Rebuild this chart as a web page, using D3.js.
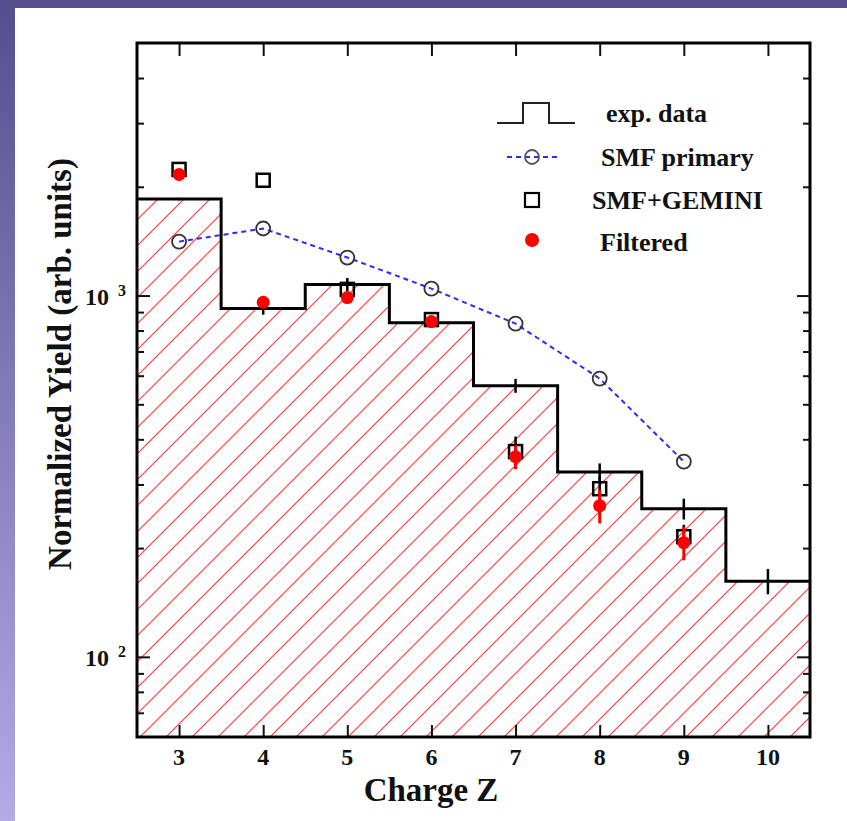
<!DOCTYPE html>
<html>
<head>
<meta charset="utf-8">
<script src="https://cdn.jsdelivr.net/npm/d3@7"></script>
<style>
  body { margin: 0; background: #fff; }
  text { font-family: "Liberation Serif", "Times New Roman", serif; font-weight: bold; fill: #111; }
</style>
</head>
<body>
<script>
// data
var charges = [3, 4, 5, 6, 7, 8, 9, 10];
var expData = [1850, 920, 1073, 841, 563, 325, 257, 162];
var expErr = [15, 35, 45, 10, 25, 18, 17, 13];
var smfZ = [3, 4, 5, 6, 7, 8, 9];
var smfPrimary = [1410, 1533, 1274, 1045, 836, 589, 347];
var gemini = [2234, 2085, 1040, 858, 370, 292, 215];
var geminiErr = [0, 0, 0, 0, 37, 25, 17];
var filtered = [2163, 958, 987, 847, 358, 262, 207];
var filteredErr = [0, 0, 30, 20, 27, 28, 22];
var xTicks = [3, 4, 5, 6, 7, 8, 9, 10];
var yMajor = [100, 1000];
var yMinor = [70, 80, 90, 200, 300, 400, 500, 600, 700, 800, 900, 2000, 3000, 4000];
var legendLabels = ["exp. data", "SMF primary", "SMF+GEMINI", "Filtered"];

var width = 847,
    height = 821;

var svg = d3.select("body").append("svg")
  .attr("width", width)
  .attr("height", height);

var defs = svg.append("defs");

var grad = defs.append("linearGradient")
  .attr("id", "side")
  .attr("x1", 0).attr("y1", 0).attr("x2", 0).attr("y2", 1);
grad.append("stop").attr("offset", "0%").attr("stop-color", "#534f8e");
grad.append("stop").attr("offset", "100%").attr("stop-color", "#b3aae6");

// hatch pattern for the exp. data histogram
var hatch = defs.append("pattern")
  .attr("id", "hatch")
  .attr("patternUnits", "userSpaceOnUse")
  .attr("x", 19)
  .attr("width", 26)
  .attr("height", 26);
hatch.append("path")
  .attr("d", "M0,26 L26,0 M-13,13 L13,-13 M13,39 L39,13")
  .attr("stroke", "#ff3b3b")
  .attr("stroke-width", 1.2);

// background
svg.append("rect").attr("width", width).attr("height", 8).attr("fill", "#534f8e");
svg.append("rect").attr("width", 15).attr("height", height).attr("fill", "url(#side)");

var pLeft = 137, pRight = 810, pTop = 43, pBottom = 737;

var x = d3.scaleLinear().domain([2.5, 10.5]).range([pLeft, pRight]);
var y = d3.scaleLog().domain([60, 5000]).range([pBottom, pTop]);

var plot = svg.append("g");

// step histogram points
var steps = [];
charges.forEach(function(z, i) {
  steps.push([z - 0.5, expData[i]]);
  steps.push([z + 0.5, expData[i]]);
});

var area = d3.area()
  .x(function(d) { return x(d[0]); })
  .y0(pBottom)
  .y1(function(d) { return y(d[1]); });

plot.append("path")
  .datum(steps)
  .attr("d", area)
  .attr("fill", "url(#hatch)");

var line = d3.line()
  .x(function(d) { return x(d[0]); })
  .y(function(d) { return y(d[1]); });

plot.append("path")
  .datum(steps)
  .attr("d", line)
  .attr("fill", "none")
  .attr("stroke", "#000")
  .attr("stroke-width", 3);

// exp error bars
plot.selectAll(".experr")
  .data(charges)
  .enter()
.append("line")
  .attr("x1", function(d) { return x(d); })
  .attr("x2", function(d) { return x(d); })
  .attr("y1", function(d, i) { return y(expData[i] + expErr[i]); })
  .attr("y2", function(d, i) { return y(expData[i] - expErr[i]); })
  .attr("stroke", "#000")
  .attr("stroke-width", 2.5);

// SMF primary
plot.append("path")
  .datum(smfZ.map(function(z, i) { return [z, smfPrimary[i]]; }))
  .attr("d", line)
  .attr("fill", "none")
  .attr("stroke", "#2a2aff")
  .attr("stroke-width", 2)
  .attr("stroke-dasharray", "5,4");

plot.selectAll(".prim")
  .data(smfZ)
  .enter()
.append("circle")
  .attr("cx", function(d) { return x(d); })
  .attr("cy", function(d, i) { return y(smfPrimary[i]); })
  .attr("r", 7)
  .attr("fill", "none")
  .attr("stroke", "#333")
  .attr("stroke-width", 1.8);

// SMF+GEMINI
plot.selectAll(".gemerr")
  .data(smfZ)
  .enter()
.append("line")
  .attr("x1", function(d) { return x(d); })
  .attr("x2", function(d) { return x(d); })
  .attr("y1", function(d, i) { return y(gemini[i] + geminiErr[i]); })
  .attr("y2", function(d, i) { return y(gemini[i] - geminiErr[i]); })
  .attr("stroke", "#000")
  .attr("stroke-width", 2.5);

plot.selectAll(".gem")
  .data(smfZ)
  .enter()
.append("rect")
  .attr("x", function(d) { return x(d) - 6.5; })
  .attr("y", function(d, i) { return y(gemini[i]) - 6.5; })
  .attr("width", 13)
  .attr("height", 13)
  .attr("fill", "none")
  .attr("stroke", "#000")
  .attr("stroke-width", 2.5);

// filtered
plot.selectAll(".filerr")
  .data(smfZ)
  .enter()
.append("line")
  .attr("x1", function(d) { return x(d); })
  .attr("x2", function(d) { return x(d); })
  .attr("y1", function(d, i) { return y(filtered[i] + filteredErr[i]); })
  .attr("y2", function(d, i) { return y(filtered[i] - filteredErr[i]); })
  .attr("stroke", "#ff0000")
  .attr("stroke-width", 3);

plot.selectAll(".fil")
  .data(smfZ)
  .enter()
.append("circle")
  .attr("cx", function(d) { return x(d); })
  .attr("cy", function(d, i) { return y(filtered[i]); })
  .attr("r", 6.5)
  .attr("fill", "#ff0000");

// axes, ticks pointing inwards on all four sides
var fmt = function() { return ""; };
function tickStyle(g) {
  g.select(".domain").remove();
  g.selectAll(".tick line").attr("stroke", "#111").attr("stroke-width", 2);
}

svg.append("g").attr("transform", "translate(0," + pBottom + ")")
  .call(d3.axisBottom(x).tickValues(xTicks).tickSize(-12).tickFormat(fmt))
  .call(tickStyle);
svg.append("g").attr("transform", "translate(0," + pTop + ")")
  .call(d3.axisTop(x).tickValues(xTicks).tickSize(-13).tickFormat(fmt))
  .call(tickStyle);
svg.append("g").attr("transform", "translate(" + pLeft + ",0)")
  .call(d3.axisLeft(y).tickValues(yMajor).tickSize(-13).tickFormat(fmt))
  .call(tickStyle);
svg.append("g").attr("transform", "translate(" + pLeft + ",0)")
  .call(d3.axisLeft(y).tickValues(yMinor).tickSize(-7).tickFormat(fmt))
  .call(tickStyle);
svg.append("g").attr("transform", "translate(" + pRight + ",0)")
  .call(d3.axisRight(y).tickValues(yMajor).tickSize(-13).tickFormat(fmt))
  .call(tickStyle);
svg.append("g").attr("transform", "translate(" + pRight + ",0)")
  .call(d3.axisRight(y).tickValues(yMinor).tickSize(-7).tickFormat(fmt))
  .call(tickStyle);

svg.append("rect")
  .attr("x", pLeft).attr("y", pTop)
  .attr("width", pRight - pLeft).attr("height", pBottom - pTop)
  .attr("fill", "none")
  .attr("stroke", "#000")
  .attr("stroke-width", 3);

// tick labels
svg.selectAll(".xlab")
  .data(xTicks)
  .enter()
.append("text")
  .attr("x", function(d) { return x(d); })
  .attr("y", 765)
  .attr("text-anchor", "middle")
  .attr("font-size", 24)
  .text(function(d) { return d; });

var ylab = svg.selectAll(".ylab")
  .data(yMajor)
  .enter()
.append("text")
  .attr("x", 85)
  .attr("y", function(d) { return y(d) + 9; })
  .attr("font-size", 24);
ylab.append("tspan").text("10");
ylab.append("tspan")
  .attr("dx", 9)
  .attr("dy", -9)
  .attr("font-size", 16)
  .text(function(d) { return Math.round(Math.log10(d)); });

// axis titles
svg.append("text")
  .attr("x", 431)
  .attr("y", 801)
  .attr("text-anchor", "middle")
  .attr("font-size", 33)
  .text("Charge Z");

svg.append("text")
  .attr("transform", "translate(71,364) rotate(-90)")
  .attr("text-anchor", "middle")
  .attr("font-size", 33)
  .text("Normalized Yield (arb. units)");

// legend
var leg = svg.append("g");
var legY = [113, 157, 200, 242];
var legX = [606, 601, 592, 600];

leg.append("path")
  .attr("d", "M497,123 H523 V103 H549 V123 H575")
  .attr("fill", "none")
  .attr("stroke", "#222")
  .attr("stroke-width", 2);
leg.append("line")
  .attr("x1", 507).attr("x2", 558)
  .attr("y1", legY[1]).attr("y2", legY[1])
  .attr("stroke", "#2a2aff")
  .attr("stroke-width", 2)
  .attr("stroke-dasharray", "5,4");
leg.append("circle")
  .attr("cx", 532).attr("cy", legY[1]).attr("r", 7)
  .attr("fill", "none").attr("stroke", "#555").attr("stroke-width", 1.8);
leg.append("rect")
  .attr("x", 525).attr("y", legY[2] - 7).attr("width", 14).attr("height", 14)
  .attr("fill", "none").attr("stroke", "#000").attr("stroke-width", 2.2);
leg.append("circle")
  .attr("cx", 532).attr("cy", 240).attr("r", 7)
  .attr("fill", "#ff0000");

leg.selectAll("text")
  .data(legendLabels)
  .enter()
.append("text")
  .attr("x", function(d, i) { return legX[i]; })
  .attr("y", function(d, i) { return legY[i] + 9; })
  .attr("font-size", 26)
  .text(function(d) { return d; });
</script>
</body>
</html>
